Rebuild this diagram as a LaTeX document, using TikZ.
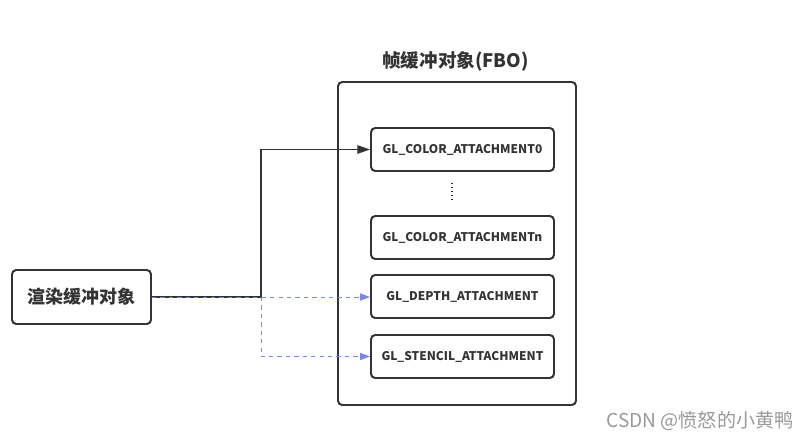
\documentclass[tikz,border=0pt]{standalone}
\usepackage{fontspec}
\setmainfont{Noto Sans CJK SC}
\usepackage{tikz}
\usetikzlibrary{arrows.meta}
\definecolor{linegray}{HTML}{333333}
\definecolor{linkblue}{HTML}{7B86EC}
\begin{document}
\begin{tikzpicture}[x=0.025cm, y=-0.025cm,
    box/.style={draw=linegray, line width=1.4pt, rounded corners=3pt, text=linegray, font=\bfseries},
    slot/.style={box, minimum width=183*0.025cm, minimum height=43*0.025cm, font=\fontsize{8.5}{10}\bfseries},
    link/.style={draw=linegray, line width=0.9pt, -{Triangle[length=9pt, width=6pt]}},
    dlink/.style={draw=linkblue, line width=0.7pt, dashed, -{Triangle[length=7pt, width=5pt]}}]
    \useasboundingbox (0,0) rectangle (810,442);
    \node[box, minimum width=238*0.025cm, minimum height=323*0.025cm] (fbo) at (457,243.5) {};
    \node[text=linegray, font=\fontsize{13.2}{15}\bfseries] (title) at (455.5,61) {帧缓冲对象(FBO)};
    \node[box, minimum width=139*0.025cm, minimum height=54*0.025cm, font=\fontsize{12.8}{15}\bfseries] (render) at (81.5,297) {渲染缓冲对象};
    \node[slot] (c0) at (462.5,149.5) {GL\_COLOR\_ATTACHMENT0};
    \node[slot] (cn) at (462.5,237.5) {GL\_COLOR\_ATTACHMENTn};
    \node[slot] (depth) at (462.5,296.5) {GL\_DEPTH\_ATTACHMENT};
    \node[slot] (stencil) at (462.5,356.5) {GL\_STENCIL\_ATTACHMENT};
    \draw[linegray, line width=0.8pt, dotted] (452,183) -- (452,200);
    \coordinate (bend) at (261,297);
    \draw[link] (render.east) -- (bend) |- (c0.west);
    \draw[dlink] (render.east) -- (depth.west |- render.east);
    \draw[dlink] (bend) |- (stencil.west);
    \node[text=black!40, font=\fontsize{13.6}{16}\selectfont] (mark) at (700,421) {CSDN @愤怒的小黄鸭};
\end{tikzpicture}
\end{document}
